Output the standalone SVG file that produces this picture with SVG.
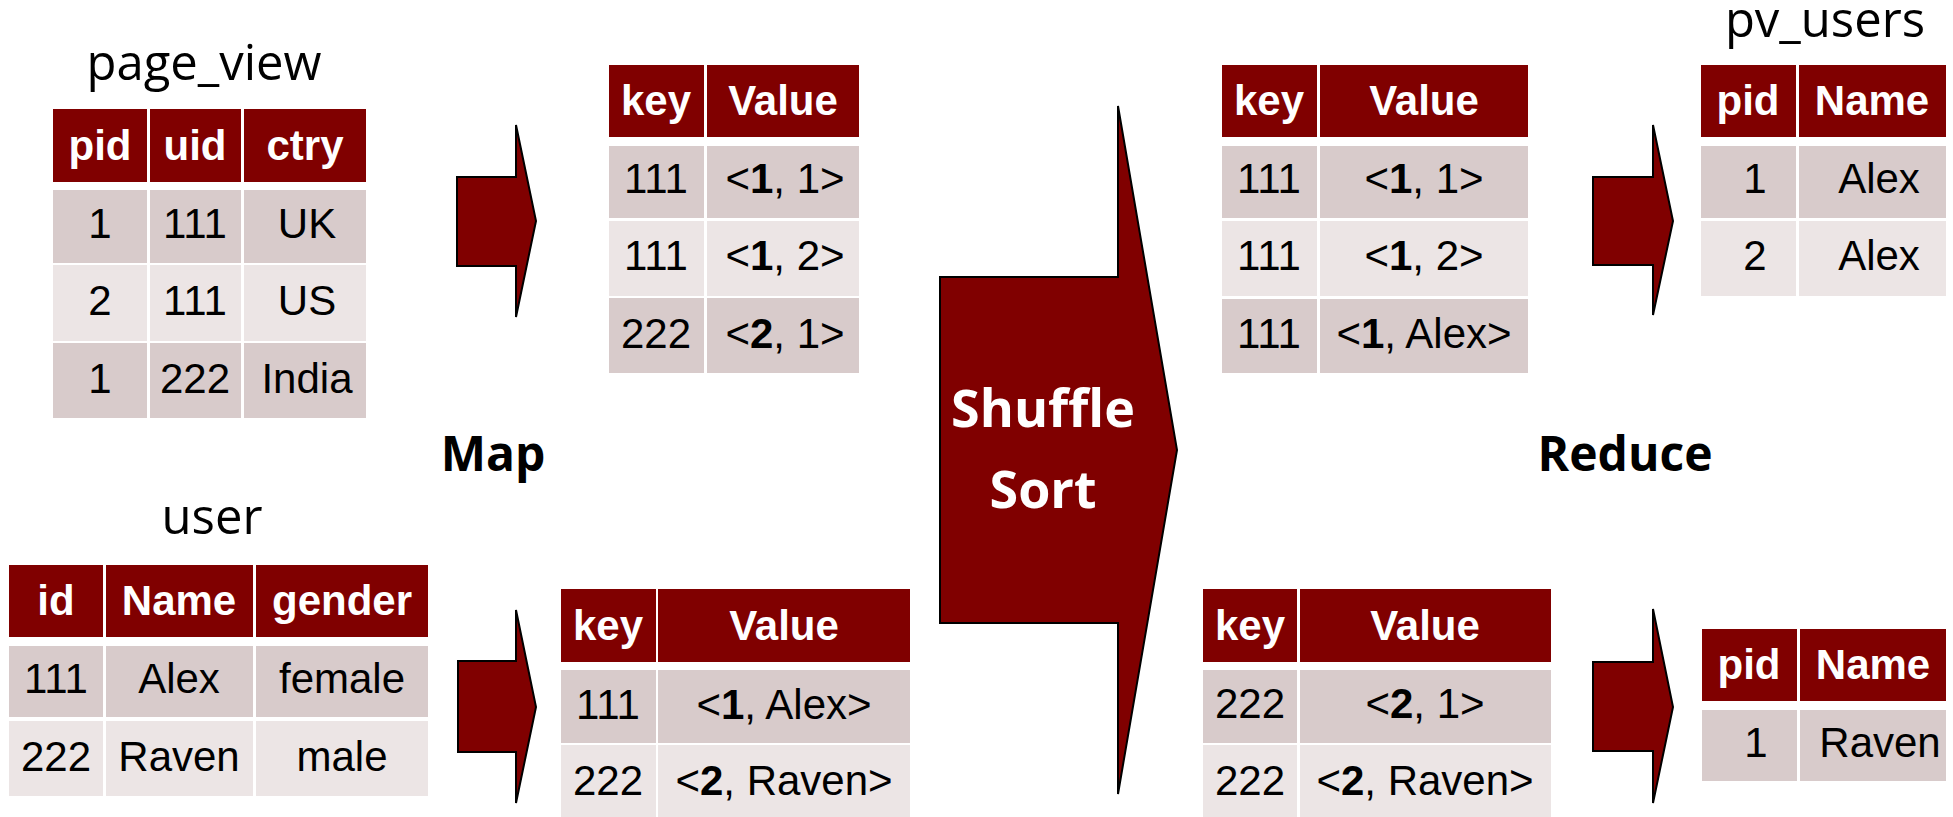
<svg xmlns="http://www.w3.org/2000/svg" width="1953" height="817" viewBox="0 0 1953 817">
  <style>
    .hd { fill: #800000; }
    .r1 { fill: #d8cbcb; }
    .r2 { fill: #ece5e5; }
    .th { font-family: "Liberation Sans", Arial, sans-serif; font-weight: bold; font-size: 42px; fill: #ffffff; text-anchor: middle; }
    .td { font-family: "Liberation Sans", Arial, sans-serif; font-size: 42px; fill: #000000; text-anchor: middle; }
    .td tspan.b { font-weight: bold; }
    .title { font-family: "Open Sans", "Noto Sans", sans-serif; font-size: 49px; fill: #000000; text-anchor: middle; }
    .stage { font-family: "Open Sans", "Noto Sans", sans-serif; font-weight: bold; font-size: 48px; fill: #000000; text-anchor: middle; }
    .stage-in { font-family: "Open Sans", "Noto Sans", sans-serif; font-weight: bold; font-size: 52px; fill: #ffffff; text-anchor: middle; }
    .arrow { fill: #800000; stroke: #000000; stroke-width: 2; stroke-linejoin: miter; }
  </style>

  <!-- block arrows between stages -->
  <g id="connectors">
    <path id="map-arrow-top" class="arrow" d="M457,177 H516 V125 L536,221 L516,317 V266 H457 Z"/>
    <path id="map-arrow-bottom" class="arrow" d="M458,661 H516 V610 L536,707 L516,803 V752 H458 Z"/>
    <path id="reduce-arrow-top" class="arrow" d="M1593,177 H1653 V125 L1673,221 L1653,315 V265 H1593 Z"/>
    <path id="reduce-arrow-bottom" class="arrow" d="M1593,662 H1653 V609 L1673,707 L1653,803 V751 H1593 Z"/>
  </g>

  <!-- shuffle / sort stage -->
  <g id="shuffle-sort">
    <path class="arrow" d="M940,277 H1118 V106 L1177,450 L1118,794 V623 H940 Z"/>
    <text class="stage-in" x="1043" y="427">Shuffle</text>
    <text class="stage-in" x="1043" y="508">Sort</text>
  </g>

  <!-- stage labels -->
  <g id="label-map"><text class="stage" x="493" y="471">Map</text></g>
  <g id="label-reduce"><text class="stage" x="1625" y="471">Reduce</text></g>

  <!-- input table: page_view -->
  <g id="page-view">
    <text class="title" x="204" y="80">page_view</text>
    <rect class="hd" x="53" y="109" width="94" height="73"/>
    <rect class="hd" x="150" y="109" width="91" height="73"/>
    <rect class="hd" x="244" y="109" width="122" height="73"/>
    <rect class="r1" x="53" y="190" width="94" height="73"/>
    <rect class="r1" x="150" y="190" width="91" height="73"/>
    <rect class="r1" x="244" y="190" width="122" height="73"/>
    <rect class="r2" x="53" y="265" width="94" height="76"/>
    <rect class="r2" x="150" y="265" width="91" height="76"/>
    <rect class="r2" x="244" y="265" width="122" height="76"/>
    <rect class="r1" x="53" y="343" width="94" height="75"/>
    <rect class="r1" x="150" y="343" width="91" height="75"/>
    <rect class="r1" x="244" y="343" width="122" height="75"/>
    <text class="th" x="100" y="160">pid</text>
    <text class="th" x="195" y="160">uid</text>
    <text class="th" x="305" y="160">ctry</text>
    <text class="td" x="100" y="238">1</text>
    <text class="td" x="195" y="238">111</text>
    <text class="td" x="307" y="238">UK</text>
    <text class="td" x="100" y="315">2</text>
    <text class="td" x="195" y="315">111</text>
    <text class="td" x="307" y="315">US</text>
    <text class="td" x="100" y="393">1</text>
    <text class="td" x="195" y="393">222</text>
    <text class="td" x="307" y="393">India</text>
  </g>

  <!-- input table: user -->
  <g id="user">
    <text class="title" x="212" y="534">user</text>
    <rect class="hd" x="9" y="565" width="94" height="72"/>
    <rect class="hd" x="106" y="565" width="147" height="72"/>
    <rect class="hd" x="256" y="565" width="172" height="72"/>
    <rect class="r1" x="9" y="646" width="94" height="71"/>
    <rect class="r1" x="106" y="646" width="147" height="71"/>
    <rect class="r1" x="256" y="646" width="172" height="71"/>
    <rect class="r2" x="9" y="721" width="94" height="75"/>
    <rect class="r2" x="106" y="721" width="147" height="75"/>
    <rect class="r2" x="256" y="721" width="172" height="75"/>
    <text class="th" x="56" y="615">id</text>
    <text class="th" x="179" y="615">Name</text>
    <text class="th" x="342" y="615">gender</text>
    <text class="td" x="56" y="693">111</text>
    <text class="td" x="179" y="693">Alex</text>
    <text class="td" x="342" y="693">female</text>
    <text class="td" x="56" y="771">222</text>
    <text class="td" x="179" y="771">Raven</text>
    <text class="td" x="342" y="771">male</text>
  </g>

  <!-- map output from page_view -->
  <g id="map-out-page-view">
    <rect class="hd" x="609" y="65" width="95" height="72"/>
    <rect class="hd" x="707" y="65" width="152" height="72"/>
    <rect class="r1" x="609" y="146" width="95" height="72"/>
    <rect class="r1" x="707" y="146" width="152" height="72"/>
    <rect class="r2" x="609" y="221" width="95" height="75"/>
    <rect class="r2" x="707" y="221" width="152" height="75"/>
    <rect class="r1" x="609" y="298" width="95" height="75"/>
    <rect class="r1" x="707" y="298" width="152" height="75"/>
    <text class="th" x="656" y="115">key</text>
    <text class="th" x="783" y="115">Value</text>
    <text class="td" x="656" y="193">111</text>
    <text class="td" x="785" y="193">&lt;<tspan class="b">1</tspan>, 1&gt;</text>
    <text class="td" x="656" y="270">111</text>
    <text class="td" x="785" y="270">&lt;<tspan class="b">1</tspan>, 2&gt;</text>
    <text class="td" x="656" y="348">222</text>
    <text class="td" x="785" y="348">&lt;<tspan class="b">2</tspan>, 1&gt;</text>
  </g>

  <!-- map output from user -->
  <g id="map-out-user">
    <rect class="hd" x="561" y="589" width="95" height="73"/>
    <rect class="hd" x="658" y="589" width="252" height="73"/>
    <rect class="r1" x="561" y="670" width="95" height="73"/>
    <rect class="r1" x="658" y="670" width="252" height="73"/>
    <rect class="r2" x="561" y="745" width="95" height="72"/>
    <rect class="r2" x="658" y="745" width="252" height="72"/>
    <text class="th" x="608" y="640">key</text>
    <text class="th" x="784" y="640">Value</text>
    <text class="td" x="608" y="719">111</text>
    <text class="td" x="784" y="719">&lt;<tspan class="b">1</tspan>, Alex&gt;</text>
    <text class="td" x="608" y="795">222</text>
    <text class="td" x="784" y="795">&lt;<tspan class="b">2</tspan>, Raven&gt;</text>
  </g>

  <!-- reducer input, key 111 -->
  <g id="reduce-in-111">
    <rect class="hd" x="1222" y="65" width="95" height="72"/>
    <rect class="hd" x="1320" y="65" width="208" height="72"/>
    <rect class="r1" x="1222" y="146" width="95" height="72"/>
    <rect class="r1" x="1320" y="146" width="208" height="72"/>
    <rect class="r2" x="1222" y="221" width="95" height="75"/>
    <rect class="r2" x="1320" y="221" width="208" height="75"/>
    <rect class="r1" x="1222" y="299" width="95" height="74"/>
    <rect class="r1" x="1320" y="299" width="208" height="74"/>
    <text class="th" x="1269" y="115">key</text>
    <text class="th" x="1424" y="115">Value</text>
    <text class="td" x="1269" y="193">111</text>
    <text class="td" x="1424" y="193">&lt;<tspan class="b">1</tspan>, 1&gt;</text>
    <text class="td" x="1269" y="270">111</text>
    <text class="td" x="1424" y="270">&lt;<tspan class="b">1</tspan>, 2&gt;</text>
    <text class="td" x="1269" y="348">111</text>
    <text class="td" x="1424" y="348">&lt;<tspan class="b">1</tspan>, Alex&gt;</text>
  </g>

  <!-- reducer input, key 222 -->
  <g id="reduce-in-222">
    <rect class="hd" x="1203" y="589" width="94" height="73"/>
    <rect class="hd" x="1300" y="589" width="251" height="73"/>
    <rect class="r1" x="1203" y="670" width="94" height="73"/>
    <rect class="r1" x="1300" y="670" width="251" height="73"/>
    <rect class="r2" x="1203" y="745" width="94" height="72"/>
    <rect class="r2" x="1300" y="745" width="251" height="72"/>
    <text class="th" x="1250" y="640">key</text>
    <text class="th" x="1425" y="640">Value</text>
    <text class="td" x="1250" y="718">222</text>
    <text class="td" x="1425" y="718">&lt;<tspan class="b">2</tspan>, 1&gt;</text>
    <text class="td" x="1250" y="795">222</text>
    <text class="td" x="1425" y="795">&lt;<tspan class="b">2</tspan>, Raven&gt;</text>
  </g>

  <!-- output table: pv_users (first reducer) -->
  <g id="pv-users-1">
    <text class="title" x="1825" y="37">pv_users</text>
    <rect class="hd" x="1701" y="65" width="95" height="72"/>
    <rect class="hd" x="1799" y="65" width="147" height="72"/>
    <rect class="r1" x="1701" y="146" width="95" height="72"/>
    <rect class="r1" x="1799" y="146" width="147" height="72"/>
    <rect class="r2" x="1701" y="221" width="95" height="75"/>
    <rect class="r2" x="1799" y="221" width="147" height="75"/>
    <text class="th" x="1748" y="115">pid</text>
    <text class="th" x="1872" y="115">Name</text>
    <text class="td" x="1755" y="193">1</text>
    <text class="td" x="1879" y="193">Alex</text>
    <text class="td" x="1755" y="270">2</text>
    <text class="td" x="1879" y="270">Alex</text>
  </g>

  <!-- output table: pv_users (second reducer) -->
  <g id="pv-users-2">
    <rect class="hd" x="1702" y="629" width="95" height="72"/>
    <rect class="hd" x="1800" y="629" width="146" height="72"/>
    <rect class="r1" x="1702" y="710" width="95" height="71"/>
    <rect class="r1" x="1800" y="710" width="146" height="71"/>
    <text class="th" x="1749" y="679">pid</text>
    <text class="th" x="1873" y="679">Name</text>
    <text class="td" x="1756" y="757">1</text>
    <text class="td" x="1880" y="757">Raven</text>
  </g>
</svg>
